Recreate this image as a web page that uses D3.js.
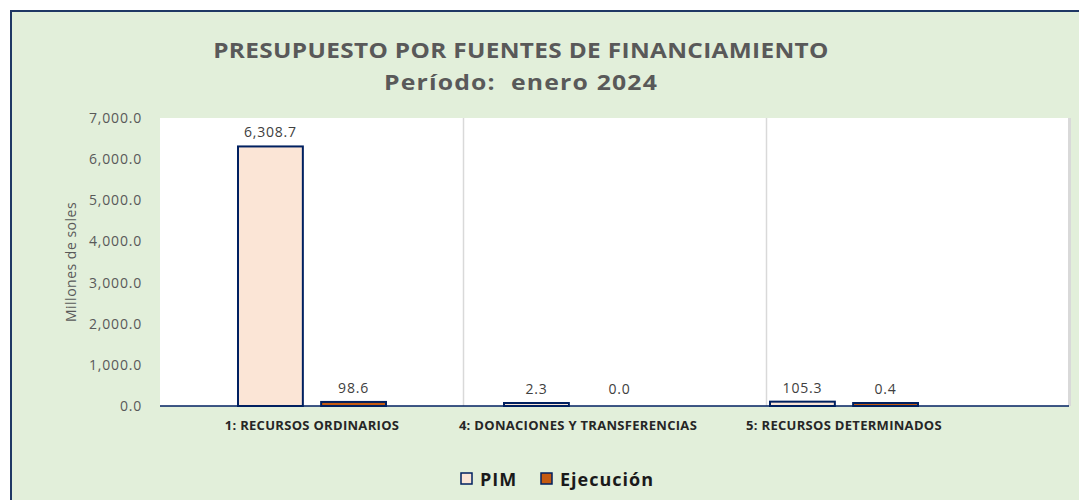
<!DOCTYPE html>
<html>
<head>
<meta charset="utf-8">
<script src="https://cdn.jsdelivr.net/npm/d3@7"></script>
<style>
  body { margin:0; background:#fff; }
  text { font-family: "Open Sans", sans-serif; }
</style>
</head>
<body>
<svg id="chart" width="1079" height="500"></svg>
<script>
// data
var categories = ['1: RECURSOS ORDINARIOS','4: DONACIONES Y TRANSFERENCIAS','5: RECURSOS DETERMINADOS'];
var seriesNames = ['PIM','Ejecución'];
var pim = [6308.7, 2.3, 105.3];
var ejecucion = [98.6, 0.0, 0.4];
var yTicks = [0,1000,2000,3000,4000,5000,6000,7000];

var colours = {PIM:'#FBE5D6', 'Ejecución':'#C55A11'};
var edge = '#002060';

var svg = d3.select('#chart');

// frame
svg.append('rect').attr('x',11).attr('y',11).attr('width',1100).attr('height',520)
  .attr('fill','#E2EFDA').attr('stroke','#1F3864').attr('stroke-width',2);

// titles (the source renders them wide, so stretch a little)
svg.append('text').attr('transform','translate(521,58) scale(1.16,1)').attr('text-anchor','middle')
  .attr('font-size',21).attr('font-weight','bold').attr('fill','#595959')
  .attr('letter-spacing',0.3)
  .text('PRESUPUESTO POR FUENTES DE FINANCIAMIENTO');
svg.append('text').attr('transform','translate(521,90) scale(1.18,1)').attr('text-anchor','middle')
  .attr('font-size',21).attr('font-weight','bold').attr('fill','#595959')
  .attr('letter-spacing',1).attr('xml:space','preserve')
  .text('Período:  enero 2024');

var margin = {left:160, right:10, top:118, bottom:94};
var plotW = 1069 - margin.left, plotH = 406 - margin.top;

// gridline bands span the plot, the clusters sit on their own point scale
var grid = d3.scaleBand().domain(categories).range([0, plotW]);
var x = d3.scalePoint().domain(categories).range([152, 684]);
var xs = d3.scaleBand().domain(seriesNames).range([-74, 74]).paddingInner(0.22);
var y = d3.scaleLinear().domain([0,7000]).range([plotH,0]);

var plot = svg.append('g').attr('transform','translate('+margin.left+','+margin.top+')');

// plot area with soft right shadow
plot.append('rect').attr('x',1).attr('y',0).attr('width',plotW+1).attr('height',plotH).attr('fill','#D9D9D9');
plot.append('rect').attr('x',0).attr('y',0).attr('width',plotW-1).attr('height',plotH).attr('fill','#fff');

// category separators
plot.selectAll('.sep').data(categories.slice(1)).enter().append('line')
  .attr('x1',d=>grid(d)+0.5).attr('x2',d=>grid(d)+0.5).attr('y1',0).attr('y2',plotH)
  .attr('stroke','#D9D9D9').attr('stroke-width',1.5);

// y axis labels
var yAxis = plot.append('g').attr('transform','translate(-15,0)')
  .call(d3.axisLeft(y).tickValues(yTicks).tickSize(0).tickFormat(d3.format(',.1f')));
yAxis.select('.domain').remove();
yAxis.selectAll('text').attr('font-size',14).attr('fill','#595959').attr('letter-spacing',0.8)
  .style('font-family','"Open Sans", sans-serif');

svg.append('text').attr('transform','translate(76,262) rotate(-90)').attr('text-anchor','middle')
  .attr('font-size',14).attr('fill','#595959').attr('letter-spacing',0.5).text('Millones de soles');

// bars
var rows = categories.map(function(c,i){
  return {cat:c, vals:[{s:'PIM', v:pim[i]},{s:'Ejecución', v:ejecucion[i]}]};
});
var groups = plot.selectAll('.grp').data(rows).enter().append('g')
  .attr('transform',d=>'translate('+x(d.cat)+',0)');
groups.selectAll('rect').data(d=>d.vals.filter(v=>v.v>0)).enter().append('rect')
  .attr('x',d=>xs(d.s)).attr('width',xs.bandwidth())
  .attr('y',d=>Math.min(y(d.v), plotH-3)).attr('height',d=>plotH-Math.min(y(d.v), plotH-3))
  .attr('fill',d=>colours[d.s]).attr('stroke',edge).attr('stroke-width',2);
groups.selectAll('.lbl').data(d=>d.vals).enter().append('text')
  .attr('x',d=>xs(d.s)+xs.bandwidth()/2).attr('y',d=>Math.min(y(d.v), plotH-3)-9)
  .attr('text-anchor','middle').attr('font-size',14).attr('letter-spacing',0.8).attr('fill','#404040')
  .text(d=>d3.format(',.1f')(d.v));

// baseline
plot.append('line').attr('x1',0).attr('x2',plotW).attr('y1',plotH).attr('y2',plotH)
  .attr('stroke',edge).attr('stroke-width',1.5);

// category labels
plot.selectAll('.cat').data(categories).enter().append('text')
  .attr('x',d=>x(d)).attr('y',plotH+24).attr('text-anchor','middle')
  .attr('font-size',13).attr('font-weight','bold').attr('letter-spacing',0.3).attr('fill','#262626').text(d=>d);

// legend
var leg = svg.append('g').attr('transform','translate(460,472)');
var legX = [0, 80];
seriesNames.forEach(function(s,i){
  leg.append('rect').attr('x',legX[i]+1).attr('y',1).attr('width',11).attr('height',11)
    .attr('fill',colours[s]).attr('stroke',edge).attr('stroke-width',1.5);
  leg.append('text').attr('x',legX[i]+20).attr('y',13.5).attr('font-size',18)
    .attr('font-weight','bold').attr('letter-spacing',1).attr('fill','#1a1a1a').text(s);
});
</script>
</body>
</html>
